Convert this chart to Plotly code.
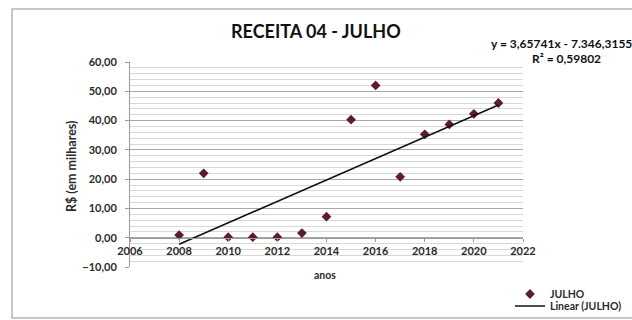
import plotly.graph_objects as go

# Receita 04 - valores de julho (R$ em milhares)
anos = [2008, 2009, 2010, 2011, 2012, 2013, 2014, 2015, 2016, 2017, 2018, 2019, 2020, 2021]
julho = [0.9, 22.0, 0.2, 0.2, 0.2, 1.6, 7.2, 40.3, 52.0, 20.8, 35.3, 38.7, 42.3, 46.0]

# Linha de tendência linear
inclinacao = 3.65741
intercepto = -7346.31558
r2 = 0.59802

titulo = "RECEITA 04 - JULHO"
titulo_y = "R$ (em milhares)"
titulo_x = "anos"
serie = "JULHO"
serie_tendencia = "Linear (JULHO)"

W, H = 632, 320
# área de plotagem em pixels
PX0, PX1 = 130, 523
PY0, PY1 = 62, 267


def fx(px):
    return px / W


def fy(py):
    return 1 - py / H


def br(num, casas):
    return f"{abs(num):,.{casas}f}".replace(",", "X").replace(".", ",").replace("X", ".")


FONT = "Lato"
TXT = "#2b2b2b"

tend_x = [anos[0], anos[-1]]
tend_y = [inclinacao * a + intercepto for a in tend_x]

fig = go.Figure()
fig.add_trace(go.Scatter(
    x=anos, y=julho, mode="markers", name=serie, legend="legend",
    marker=dict(symbol="diamond", size=7.5, color="#5e1b2c"),
))
fig.add_trace(go.Scatter(
    x=tend_x, y=tend_y, mode="lines", name=serie_tendencia, legend="legend2",
    line=dict(color="#111111", width=1.6),
))

sinal = "-" if intercepto < 0 else "+"
eq1 = f"<b>y = {br(inclinacao, 5)}x {sinal} {br(intercepto, 5)}</b>"
eq2 = f"<b>R² = {br(r2, 5)}</b>"

leg_comum = dict(
    xref="container", yref="container", xanchor="left", yanchor="middle",
    font=dict(family=FONT, size=10.5, color=TXT, weight="bold"),
    itemwidth=30, bgcolor="rgba(0,0,0,0)", borderwidth=0,
)

fig.update_layout(
    width=W, height=H,
    margin=dict(l=0, r=0, t=0, b=0, autoexpand=False),
    paper_bgcolor="white", plot_bgcolor="white",
    separators=",.",
    showlegend=True,
    legend=dict(x=fx(510), y=fy(294), **leg_comum),
    legend2=dict(x=fx(510), y=fy(306), **leg_comum),
    xaxis=dict(
        domain=[fx(PX0), fx(PX1)],
        range=[2006, 2022], dtick=2, tick0=2006,
        anchor="free", position=fy(PY1) + (fy(PY0) - fy(PY1)) * 10 / 70,
        showgrid=False, zeroline=False,
        showline=True, linecolor="#9a9a9a", linewidth=1,
        ticks="outside", ticklen=3, tickcolor="#9a9a9a",
        tickfont=dict(family=FONT, size=11, color=TXT, weight="bold"),
        tickformat="d",
    ),
    yaxis=dict(
        domain=[fy(PY1), fy(PY0)],
        range=[-10, 60], dtick=10,
        tickformat=".2f",
        showgrid=True, gridcolor="#a8a8a8", gridwidth=1,
        minor=dict(dtick=2, showgrid=True, gridcolor="#d8d8d8", gridwidth=1),
        zeroline=False,
        showline=True, linecolor="#9a9a9a", linewidth=1,
        ticks="outside", ticklen=4, tickcolor="#9a9a9a",
        ticklabelstandoff=6,
        tickfont=dict(family=FONT, size=11, color=TXT, weight="bold"),
    ),
    shapes=[
        dict(type="rect", xref="paper", yref="paper",
             x0=fx(12), x1=fx(700), y0=fy(318), y1=fy(9),
             line=dict(color="#b5b5b5", width=1.5), fillcolor="rgba(0,0,0,0)", layer="below"),
    ],
    annotations=[
        dict(text=f"<b>{titulo}</b>", xref="paper", yref="paper",
             x=fx(316), y=fy(31), xanchor="center", yanchor="middle",
             showarrow=False, font=dict(family=FONT, size=18, color="#111111")),
        dict(text=f"<b>{titulo_y}</b>", xref="paper", yref="paper", textangle=-90,
             x=fx(71), y=fy(166), xanchor="center", yanchor="middle",
             showarrow=False, font=dict(family=FONT, size=12.5, color=TXT)),
        dict(text=f"<b>{titulo_x}</b>", xref="paper", yref="paper",
             x=fx(325), y=fy(275), xanchor="center", yanchor="middle",
             showarrow=False, font=dict(family=FONT, size=10.5, color=TXT)),
        dict(text=eq1, xref="paper", yref="paper",
             x=fx(490), y=fy(44), xanchor="left", yanchor="middle",
             showarrow=False, borderpad=0, font=dict(family=FONT, size=12, color="#111111")),
        dict(text=eq2, xref="paper", yref="paper",
             x=fx(531), y=fy(58), xanchor="left", yanchor="middle",
             showarrow=False, borderpad=0, font=dict(family=FONT, size=12, color="#111111")),
    ],
)

fig.write_html("out.html")
